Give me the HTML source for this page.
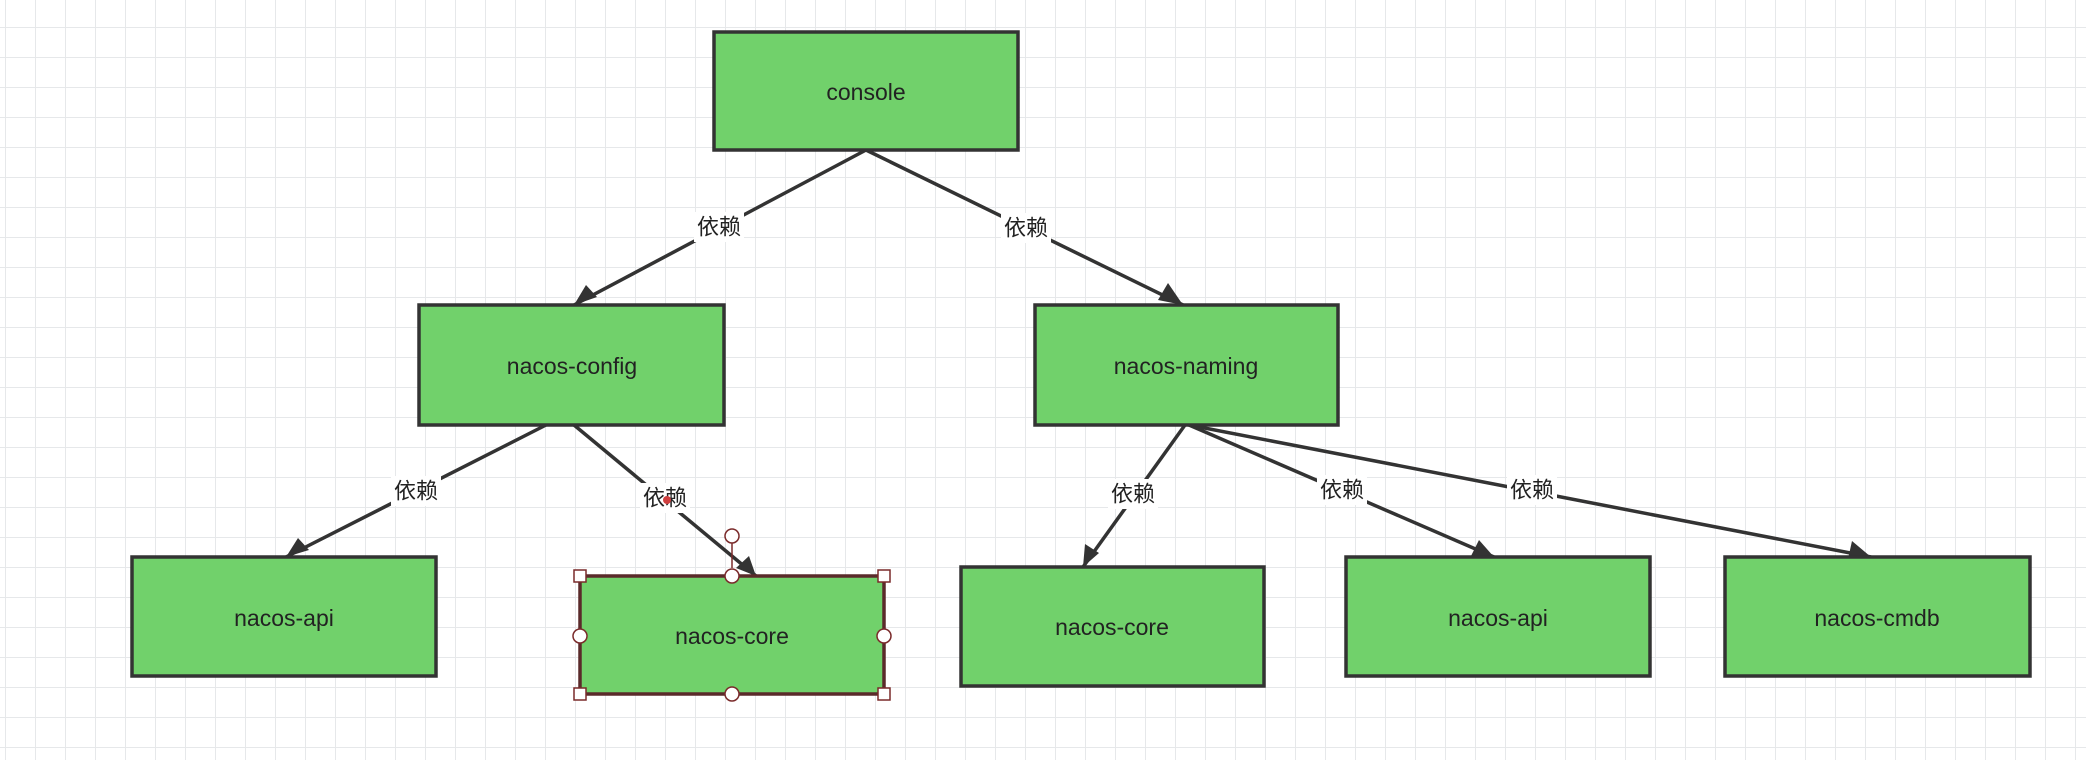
<!DOCTYPE html>
<html><head><meta charset="utf-8"><style>
html,body{margin:0;padding:0}
body{width:2086px;height:760px;overflow:hidden;background:#fff}
</style></head><body>
<svg width="2086" height="760" xmlns="http://www.w3.org/2000/svg">
<defs>
<pattern id="g" x="5" y="27" width="30" height="30" patternUnits="userSpaceOnUse">
<path d="M0 0H30M0 0V30" stroke="#e6e8ea" stroke-width="2" fill="none"/>
</pattern>
<marker id="a" markerWidth="10" markerHeight="10" refX="9" refY="5" orient="auto" markerUnits="userSpaceOnUse" viewBox="0 0 10 10">
</marker>
</defs>
<rect width="2086" height="760" fill="url(#g)"/>
<g stroke="#333" stroke-width="3.5" fill="none">
<line x1="866" y1="150" x2="574" y2="305"/>
<line x1="866" y1="150" x2="1183" y2="305"/>
<line x1="546" y1="425" x2="286" y2="557"/>
<line x1="574" y1="425" x2="756" y2="576"/>
<line x1="1185" y1="425" x2="1083" y2="567"/>
<line x1="1189" y1="425" x2="1494" y2="557"/>
<line x1="1189" y1="425" x2="1871" y2="557"/>
</g>
<g fill="#333">
<polygon points="574,305 586,285 597,297"/>
<polygon points="1183,305 1158,300 1168,283"/>
<polygon points="286,557 298,538 309,550"/>
<polygon points="756,576 736,568 749,556"/>
<polygon points="1083,567 1085,544 1099,553"/>
<polygon points="1494,557 1471,556 1479,540"/>
<polygon points="1871,557 1848,559 1852,541"/>
</g>
<g fill="#fff">
<rect x="694" y="212" width="50" height="30"/>
<rect x="1001" y="213" width="50" height="30"/>
<rect x="391" y="476" width="50" height="30"/>
<rect x="640" y="483" width="50" height="30"/>
<rect x="1108" y="479" width="50" height="30"/>
<rect x="1317" y="475" width="50" height="30"/>
<rect x="1507" y="475" width="50" height="30"/>
</g>
<g font-family="Liberation Sans, Noto Sans CJK SC, sans-serif" font-size="22" fill="#222" text-anchor="middle" dominant-baseline="central">
<text x="719" y="227">依赖</text>
<text x="1026" y="228">依赖</text>
<text x="416" y="491">依赖</text>
<text x="665" y="498">依赖</text>
<text x="1133" y="494">依赖</text>
<text x="1342" y="490">依赖</text>
<text x="1532" y="490">依赖</text>
</g>
<circle cx="667" cy="500" r="4" fill="#d04040"/>
<g fill="#71d16b" stroke="#333" stroke-width="3.5">
<rect x="714" y="32" width="304" height="118"/>
<rect x="419" y="305" width="305" height="120"/>
<rect x="1035" y="305" width="303" height="120"/>
<rect x="132" y="557" width="304" height="119"/>
<rect x="580" y="576" width="304" height="118" stroke="#5a2a2a"/>
<rect x="961" y="567" width="303" height="119"/>
<rect x="1346" y="557" width="304" height="119"/>
<rect x="1725" y="557" width="305" height="119"/>
</g>
<g font-family="Liberation Sans, sans-serif" font-size="23" fill="#222" text-anchor="middle" dominant-baseline="central">
<text x="866" y="92">console</text>
<text x="572" y="366">nacos-config</text>
<text x="1186" y="366">nacos-naming</text>
<text x="284" y="618">nacos-api</text>
<text x="732" y="636">nacos-core</text>
<text x="1112" y="627">nacos-core</text>
<text x="1498" y="618">nacos-api</text>
<text x="1877" y="618">nacos-cmdb</text>
</g>
<g fill="#fff" stroke="#7a2a2a" stroke-width="1.5">
<line x1="732" y1="543" x2="732" y2="568"/>
<circle cx="732" cy="536" r="7"/>
<rect x="574" y="570" width="12" height="12"/>
<rect x="878" y="570" width="12" height="12"/>
<rect x="574" y="688" width="12" height="12"/>
<rect x="878" y="688" width="12" height="12"/>
<circle cx="732" cy="576" r="7"/>
<circle cx="732" cy="694" r="7"/>
<circle cx="580" cy="636" r="7"/>
<circle cx="884" cy="636" r="7"/>
</g>
</svg>
</body></html>
